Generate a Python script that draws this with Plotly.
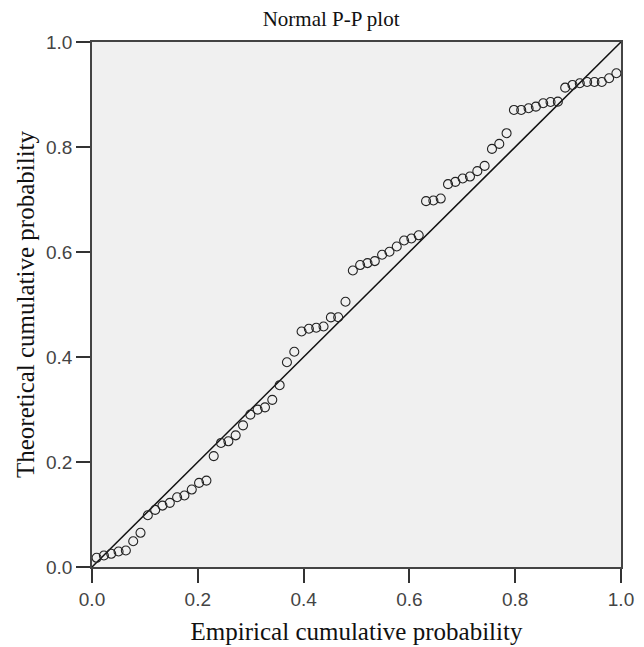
import plotly.graph_objects as go

empirical = [0.0087, 0.0225, 0.0363, 0.0502, 0.0640, 0.0779, 0.0917, 0.1055, 0.1194, 0.1332,
             0.1471, 0.1609, 0.1747, 0.1886, 0.2024, 0.2163, 0.2301, 0.2439, 0.2578, 0.2716,
             0.2855, 0.2993, 0.3131, 0.3270, 0.3408, 0.3547, 0.3685, 0.3824, 0.3962, 0.4100,
             0.4239, 0.4377, 0.4516, 0.4654, 0.4792, 0.4931, 0.5069, 0.5208, 0.5346, 0.5484,
             0.5623, 0.5761, 0.5900, 0.6038, 0.6176, 0.6315, 0.6453, 0.6592, 0.6730, 0.6869,
             0.7007, 0.7145, 0.7284, 0.7422, 0.7561, 0.7699, 0.7837, 0.7976, 0.8114, 0.8253,
             0.8391, 0.8529, 0.8668, 0.8806, 0.8945, 0.9083, 0.9221, 0.9360, 0.9498, 0.9637,
             0.9775, 0.9913]

theoretical = [0.0175, 0.0219, 0.0251, 0.0295, 0.0314, 0.0491, 0.0651, 0.0986, 0.1088, 0.1170,
               0.1222, 0.1328, 0.1361, 0.1475, 0.1602, 0.1646, 0.2112, 0.2363, 0.2394, 0.2508,
               0.2698, 0.2902, 0.2997, 0.3041, 0.3184, 0.3463, 0.3901, 0.4101, 0.4485, 0.4539,
               0.4558, 0.4582, 0.4754, 0.4757, 0.5052, 0.5648, 0.5751, 0.5789, 0.5827, 0.5947,
               0.6004, 0.6105, 0.6219, 0.6257, 0.6318, 0.6969, 0.6980, 0.7018, 0.7292, 0.7336,
               0.7399, 0.7437, 0.7540, 0.7640, 0.7964, 0.8059, 0.8263, 0.8706, 0.8706, 0.8738,
               0.8769, 0.8833, 0.8858, 0.8864, 0.9130, 0.9182, 0.9214, 0.9239, 0.9239, 0.9239,
               0.9309, 0.9404]

ref_line = [0.0, 1.0]
tick_vals = [0.0, 0.2, 0.4, 0.6, 0.8, 1.0]
tick_text = ["0.0", "0.2", "0.4", "0.6", "0.8", "1.0"]

fig = go.Figure()
fig.add_trace(go.Scatter(x=ref_line, y=ref_line, mode="lines",
                         line=dict(color="#111111", width=1.5), hoverinfo="skip"))
fig.add_trace(go.Scatter(x=empirical, y=theoretical, mode="markers",
                         marker=dict(symbol="circle-open", size=9, color="#222222",
                                     line=dict(color="#222222", width=1.1))))

serif = "Liberation Serif, Times New Roman, serif"
sans = "Liberation Sans, Arial, sans-serif"

axis_common = dict(range=[0, 1], tickvals=tick_vals, ticktext=tick_text,
                   ticks="outside", ticklen=14, tickwidth=1.5, tickcolor="#333333",
                   showline=True, linecolor="#444444", linewidth=1.5, mirror=True,
                   showgrid=False, zeroline=False, automargin=False,
                   tickfont=dict(family=sans, size=19, color="#444444"))

fig.update_layout(
    width=636, height=639,
    margin=dict(l=84, r=23, t=34, b=80),
    paper_bgcolor="white", plot_bgcolor="#F0F0F0",
    showlegend=False,
    title=dict(text="Normal P-P plot", x=0.508, xref="container", xanchor="center",
               y=0.984, yref="container", yanchor="middle",
               font=dict(family=serif, size=21, color="#111111")),
    xaxis=dict(**axis_common,
               title=dict(text="Empirical cumulative probability", standoff=14,
                          font=dict(family=serif, size=25, color="#111111"))),
    yaxis=dict(**axis_common,
               title=dict(text="Theoretical cumulative probability", standoff=4,
                          font=dict(family=serif, size=25, color="#111111"))),
)

fig.write_html("out.html")
